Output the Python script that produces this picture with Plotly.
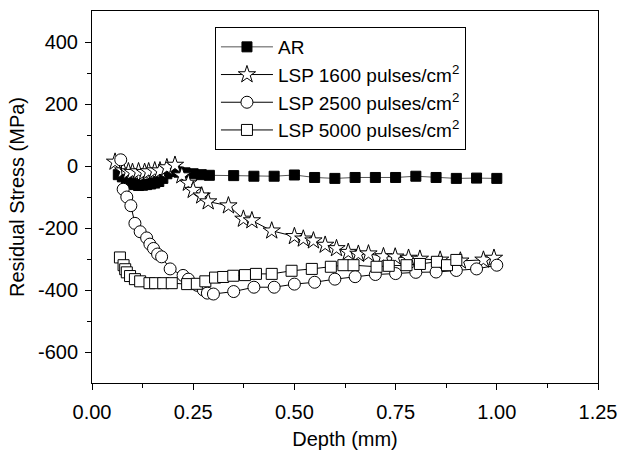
import plotly.graph_objects as go

# ---- data (depth in mm, residual stress in MPa) ----
ar_depth = [0.065, 0.075, 0.085, 0.095, 0.105, 0.115, 0.125, 0.135, 0.145, 0.155,
            0.165, 0.175, 0.185, 0.195, 0.205, 0.215, 0.23, 0.25, 0.27, 0.29,
            0.35, 0.40, 0.45, 0.50, 0.55, 0.60, 0.65, 0.70, 0.75, 0.80,
            0.85, 0.90, 0.95, 1.00]
ar_stress = [-28, -35, -45, -55, -60, -63, -62, -60, -58, -55,
             -50, -40, -25, -18, -15, -20, -22, -25, -28, -30,
             -31, -33, -33, -29, -37, -40, -37, -37, -37, -33,
             -37, -40, -39, -40]

lsp1600_depth = [0.057, 0.077, 0.09, 0.10, 0.115, 0.13, 0.14, 0.155, 0.168, 0.185,
                 0.205, 0.222, 0.238, 0.25, 0.271, 0.287, 0.337, 0.374, 0.395, 0.444,
                 0.50, 0.522, 0.547, 0.576, 0.604, 0.633, 0.658, 0.683, 0.72, 0.749,
                 0.782, 0.81, 0.86, 0.91, 0.967, 0.993]
lsp1600_stress = [13, -15, -18, -20, -18, -20, -18, -15, -15, -5,
                  3, -31, -55, -78, -96, -115, -128, -171, -176, -209,
                  -227, -235, -241, -255, -266, -278, -284, -283, -292, -293,
                  -297, -300, -303, -306, -303, -297]

lsp2500_depth = [0.071, 0.077, 0.086, 0.096, 0.106, 0.119, 0.135, 0.143, 0.152, 0.162,
                 0.172, 0.193, 0.225, 0.238, 0.26, 0.275, 0.285, 0.30, 0.35, 0.40,
                 0.45, 0.50, 0.55, 0.60, 0.65, 0.70, 0.75, 0.80, 0.85, 0.90,
                 0.95, 1.00]
lsp2500_stress = [20, -75, -100, -128, -185, -212, -232, -252, -266, -284,
                  -293, -332, -353, -365, -385, -400, -410, -413, -405, -391,
                  -391, -381, -375, -365, -357, -350, -347, -343, -342, -337,
                  -332, -320]

lsp5000_depth = [0.069, 0.078, 0.082, 0.086, 0.094, 0.106, 0.119, 0.142, 0.156, 0.176,
                 0.197, 0.235, 0.259, 0.28, 0.304, 0.324, 0.349, 0.378, 0.405, 0.444,
                 0.493, 0.543, 0.59, 0.621, 0.646, 0.703, 0.733, 0.777, 0.81, 0.852,
                 0.877, 0.90]
lsp5000_stress = [-295, -320, -333, -343, -355, -365, -372, -378, -378, -378,
                  -378, -381, -380, -372, -360, -358, -354, -352, -348, -348,
                  -338, -332, -325, -320, -320, -325, -322, -320, -316, -309,
                  -320, -303]

x_ticks = [0.00, 0.25, 0.50, 0.75, 1.00, 1.25]
x_tick_labels = ["0.00", "0.25", "0.50", "0.75", "1.00", "1.25"]
y_ticks = [-600, -400, -200, 0, 200, 400]
y_tick_labels = ["-600", "-400", "-200", "0", "200", "400"]

FONT = "Liberation Sans"

fig = go.Figure()
fig.add_trace(go.Scatter(
    x=ar_depth, y=ar_stress, mode="lines+markers", name="AR",
    line=dict(color="#555555", width=1),
    marker=dict(symbol="square", size=10, color="black", line=dict(color="black", width=1))))
fig.add_trace(go.Scatter(
    x=lsp1600_depth, y=lsp1600_stress, mode="lines+markers",
    name="LSP 1600 pulses/cm<sup>2</sup>",
    line=dict(color="black", width=1),
    marker=dict(symbol="star", size=13, color="white", line=dict(color="black", width=1))))
fig.add_trace(go.Scatter(
    x=lsp2500_depth, y=lsp2500_stress, mode="lines+markers",
    name="LSP 2500 pulses/cm<sup>2</sup>",
    line=dict(color="black", width=1),
    marker=dict(symbol="circle", size=12, color="white", line=dict(color="black", width=1))))
fig.add_trace(go.Scatter(
    x=lsp5000_depth, y=lsp5000_stress, mode="lines+markers",
    name="LSP 5000 pulses/cm<sup>2</sup>",
    line=dict(color="black", width=1),
    marker=dict(symbol="square", size=11, color="white", line=dict(color="black", width=1))))

fig.update_layout(
    width=620, height=450,
    margin=dict(l=92, r=22, t=11, b=67),
    paper_bgcolor="white", plot_bgcolor="white",
    font=dict(family=FONT, size=20, color="black"),
    showlegend=True,
    legend=dict(
        x=0.243, y=0.957, xanchor="left", yanchor="top",
        bordercolor="black", borderwidth=1, bgcolor="white",
        font=dict(family=FONT, size=19, color="black"),
        tracegroupgap=0, itemwidth=52,
    ),
)
fig.update_xaxes(
    range=[0, 1.25], tickvals=x_ticks, ticktext=x_tick_labels,
    tickfont=dict(family=FONT, size=20), ticklabelstandoff=5,
    ticks="outside", ticklen=6, tickwidth=1, tickcolor="black",
    minor=dict(tickvals=[0.125, 0.375, 0.625, 0.875, 1.125], ticks="outside", ticklen=4,
               tickcolor="black", tickwidth=1),
    showline=True, linecolor="black", linewidth=1, mirror=True,
    showgrid=False, zeroline=False, automargin=False,
    title=dict(text="Depth (mm)", font=dict(family=FONT, size=20), standoff=10),
)
fig.update_yaxes(
    range=[-700, 500], tickvals=y_ticks, ticktext=y_tick_labels,
    tickfont=dict(family=FONT, size=20), ticklabelstandoff=3,
    ticks="outside", ticklen=6, tickwidth=1, tickcolor="black",
    minor=dict(tickvals=[-500, -300, -100, 100, 300], ticks="outside", ticklen=4,
               tickcolor="black", tickwidth=1),
    showline=True, linecolor="black", linewidth=1, mirror=True,
    showgrid=False, zeroline=False, automargin=False,
    title=dict(text="Residual Stress (MPa)", font=dict(family=FONT, size=20), standoff=7),
)

fig.write_html("out.html", config={"displayModeBar": False},
               post_script="document.body.style.margin='0px';")
